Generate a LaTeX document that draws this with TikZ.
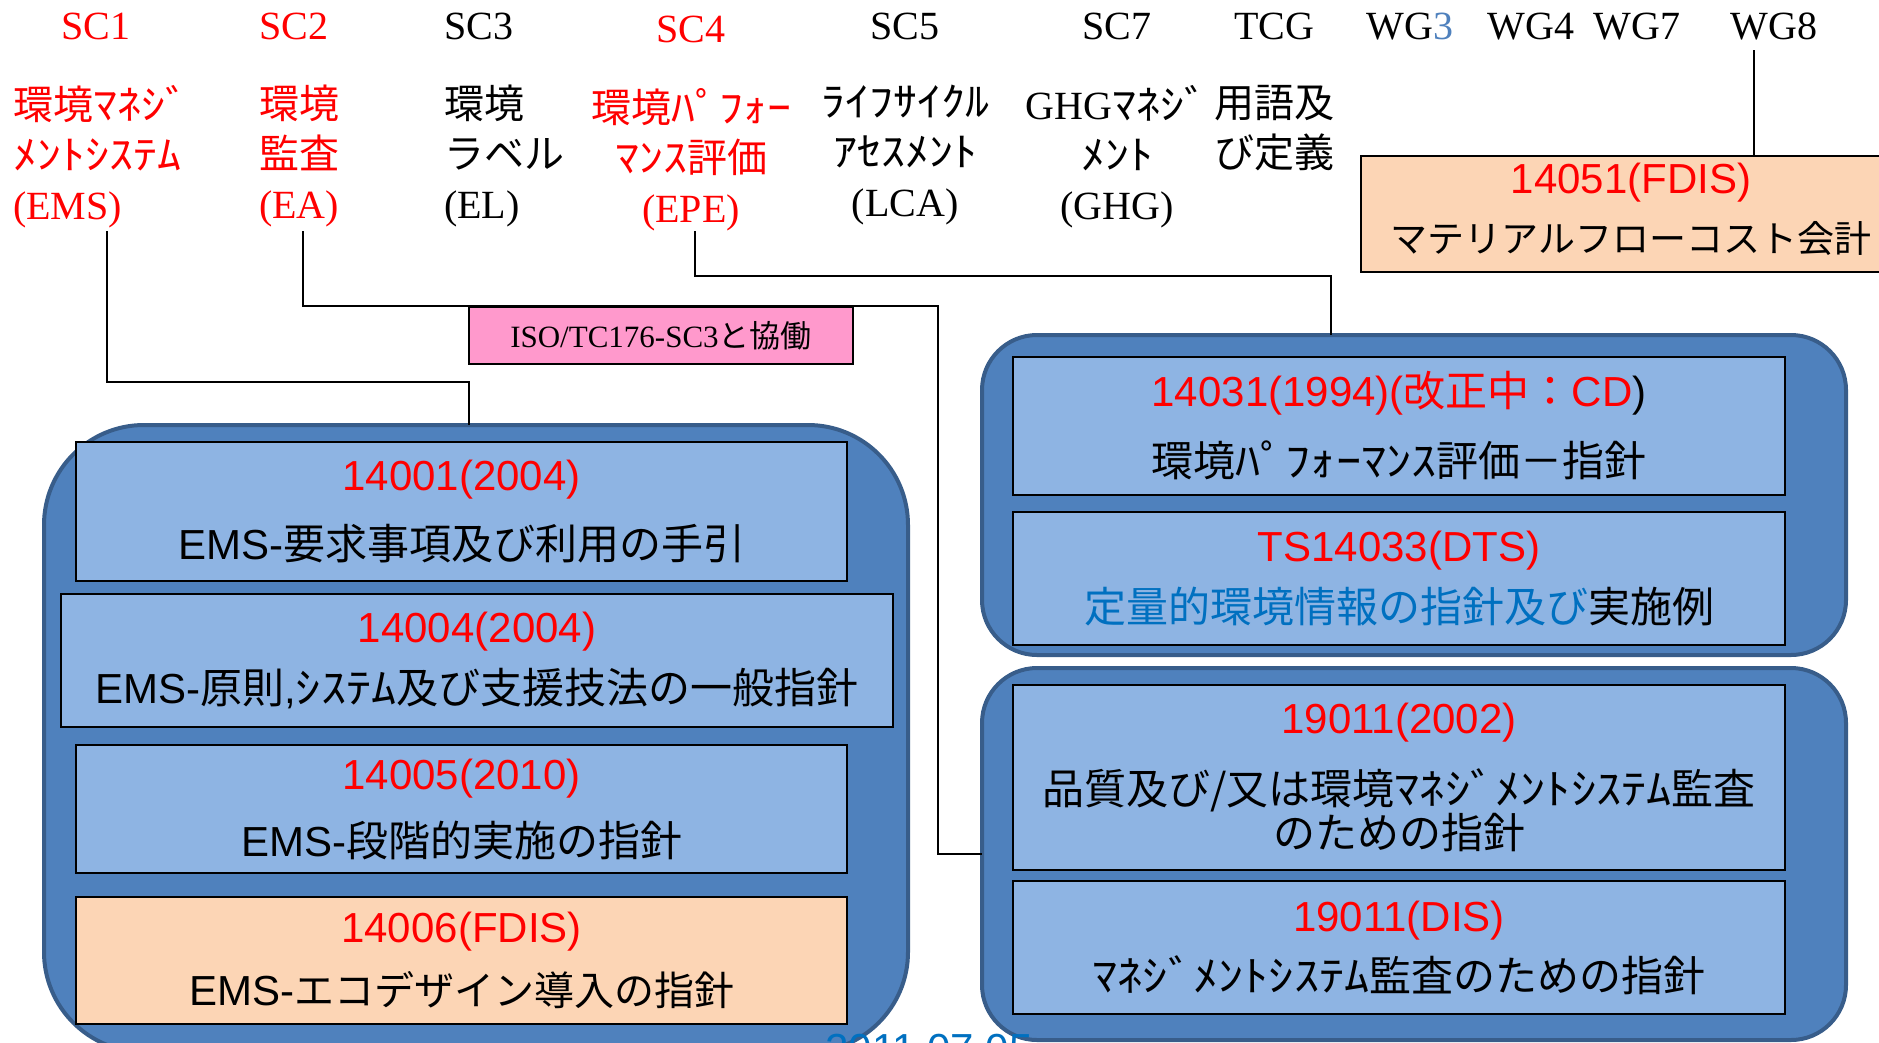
\documentclass[tikz,border=0pt]{standalone}
\usepackage{fontspec}
\setmainfont{Liberation Serif}
\newfontfamily\arialfont{Liberation Sans}
\newfontfamily\jpfont{Noto Sans CJK JP}
\newfontfamily\hkfont[FakeStretch=1.2]{Noto Sans CJK JP}
\newcommand\jp[1]{{\jpfont #1}}
\newcommand\hk[1]{{\hkfont #1}}

\definecolor{groupfill}{HTML}{4F81BD}
\definecolor{groupline}{HTML}{385D8A}
\definecolor{docblue}{HTML}{8EB4E3}
\definecolor{docpeach}{HTML}{FCD5B5}
\definecolor{isopink}{HTML}{FF99CC}
\definecolor{textblue}{HTML}{0070C0}
\definecolor{wgblue}{HTML}{4F81BD}

\tikzset{
	wire/.style={line width=2pt},
	wgframe/.style={draw=groupline, fill=groupfill, line width=4pt, rounded corners=#1,
		inner sep=0pt, outer sep=0pt, anchor=north west},
	wgframe/.default=55pt,
	stdbox/.style={draw, line width=2.5pt, fill=docblue, inner sep=0pt, outer sep=0pt,
		anchor=north west, align=center, font=\fontsize{42}{65}\arialfont},
	stdboxdraft/.style={stdbox, fill=docpeach},
	sclabel/.style={font=\fontsize{40}{48}\selectfont, inner sep=0pt, anchor=base},
	scnote/.style={font=\fontsize{40}{50}\selectfont, inner sep=0pt, align=left, anchor=north west},
	scnotec/.style={scnote, align=center, anchor=north},
}

\begin{document}
\begin{tikzpicture}[x=1pt, y=-1pt]
	\useasboundingbox (0,0) rectangle (1879,1042);
	\clip (0,0) rectangle (1879,1042);

	% Committee names along the top
	\node[sclabel, red] (sc1) at (96,39) {SC1};
	\node[sclabel, red] (sc2) at (294,39) {SC2};
	\node[sclabel] (sc3) at (479,39) {SC3};
	\node[sclabel, red] (sc4) at (691,42) {SC4};
	\node[sclabel] (sc5) at (905,39) {SC5};
	\node[sclabel] (sc7) at (1117,39) {SC7};
	\node[sclabel] (tcg) at (1274,39) {TCG};
	\node[sclabel] (wg3) at (1410,39) {WG\textcolor{wgblue}{3}};
	\node[sclabel] (wg4) at (1531,39) {WG4};
	\node[sclabel] (wg7) at (1637,39) {WG7};
	\node[sclabel] (wg8) at (1774,39) {WG8};

	% What each of them deals with
	\node[scnote, red] (sc1 note) at (13,85) {\jp{環境\hk{ﾏﾈｼﾞ}}\\\hk{ﾒﾝﾄｼｽﾃﾑ}\\(EMS)};
	\node[scnote, red] (sc2 note) at (259,85) {\jp{環境}\\\jp{監査}\\(EA)};
	\node[scnote] (sc3 note) at (444,85) {\jp{環境}\\\jp{ラベル}\\(EL)};
	\node[scnotec, red] (sc4 note) at (691,88) {\jp{環境\hk{ﾊﾟﾌｫｰ}}\\\jp{\hk{ﾏﾝｽ}評価}\\(EPE)};
	\node[scnotec] (sc5 note) at (905,85) {\hk{ﾗｲﾌｻｲｸﾙ}\\\hk{ｱｾｽﾒﾝﾄ}\\(LCA)};
	\node[scnotec] (sc7 note) at (1117,85) {GHG\hk{ﾏﾈｼﾞ}\\\hk{ﾒﾝﾄ}\\(GHG)};
	\node[scnotec] (tcg note) at (1274,85) {\jp{用語及}\\\jp{び定義}};

	% Where the lines leave the headings
	\coordinate (ems foot) at (107,231);
	\coordinate (ea foot) at (303,231);
	\coordinate (epe foot) at (695,231);
	\coordinate (wg8 foot) at (1754,50);

	% Groups of standards
	\node[wgframe=100pt, minimum width=864pt, minimum height=627pt] (ems group) at (44,425) {};
	\node[wgframe, minimum width=864pt, minimum height=320pt] (epe group) at (982,335) {};
	\node[wgframe, minimum width=864pt, minimum height=372pt] (audit group) at (982,668) {};

	% Lines from the headings to their groups
	\draw[wire] (ems foot) |- (469,382) -- (469,425);
	\draw[wire] (ea foot) |- (938,306) |- (audit group.west);
	\draw[wire] (epe foot) |- (1331,276) -- (epe group.north -| 1331,0);
	\draw[wire] (wg8 foot) -- (wg8 foot |- 0,156);

	\node[draw, line width=2pt, fill=isopink, inner sep=0pt, outer sep=0pt, anchor=north west,
		minimum width=384pt, minimum height=57pt, font=\fontsize{31}{36}\selectfont]
		(tc176) at (469,307) {ISO/TC176-SC3\jp{と協働}};

	% The standards themselves
	\node[stdbox, minimum width=771pt, minimum height=139pt] (iso14001) at (76,442)
		{\textcolor{red}{14001(2004)}\\[4pt]EMS-\jp{要求事項及び利用の手引}};
	\node[stdbox, minimum width=832pt, minimum height=133pt] (iso14004) at (61,594)
		{\textcolor{red}{14004(2004)}\\[-4pt]EMS-\jp{原則},\jp{\hk{ｼｽﾃﾑ}及び支援技法の一般指針}};
	\node[stdbox, minimum width=771pt, minimum height=128pt] (iso14005) at (76,745)
		{\textcolor{red}{14005(2010)}\\[2pt]EMS-\jp{段階的実施の指針}};
	\node[stdboxdraft, minimum width=771pt, minimum height=127pt] (iso14006) at (76,897)
		{\textcolor{red}{14006(FDIS)}\\[-2pt]EMS-{\fontsize{40}{65}\jpfont エコデザイン導入の指針}};

	\node[stdbox, minimum width=772pt, minimum height=138pt] (iso14031) at (1013,357)
		{\textcolor{red}{14031(1994)(\jp{改正中：}CD})\\[5pt]\jp{環境\hk{ﾊﾟﾌｫｰﾏﾝｽ}評価－指針}};
	\node[stdbox, minimum width=772pt, minimum height=133pt] (iso14033) at (1013,512)
		{\textcolor{red}{TS14033(DTS)}\\[-4pt]\jp{\textcolor{textblue}{定量的環境情報の指針及び}実施例}};

	\node[stdbox, minimum width=772pt, minimum height=185pt] (iso19011) at (1013,685)
		{\textcolor{red}{19011(2002)}\\[6pt]\jp{品質及び/又は環境\hk{ﾏﾈｼﾞﾒﾝﾄｼｽﾃﾑ}監査}\\[-21pt]\jp{のための指針}};
	\node[stdbox, minimum width=772pt, minimum height=133pt] (iso19011dis) at (1013,881)
		{\textcolor{red}{19011(DIS)}\\[-5pt]\jp{\hk{ﾏﾈｼﾞﾒﾝﾄｼｽﾃﾑ}監査のための指針}};

	\node[stdboxdraft, minimum width=540pt, minimum height=116pt] (iso14051) at (1361,156)
		{\textcolor{red}{14051(FDIS)}\\[-6pt]{\fontsize{37}{65}\jpfont マテリアルフローコスト会計}\rule[-12pt]{0pt}{12pt}};

	% Date, cut off at the bottom
	\node[font=\fontsize{42}{48}\arialfont, text=textblue, anchor=base, inner sep=0pt]
		(date) at (929,1063) {2011.07.05};
\end{tikzpicture}
\end{document}
